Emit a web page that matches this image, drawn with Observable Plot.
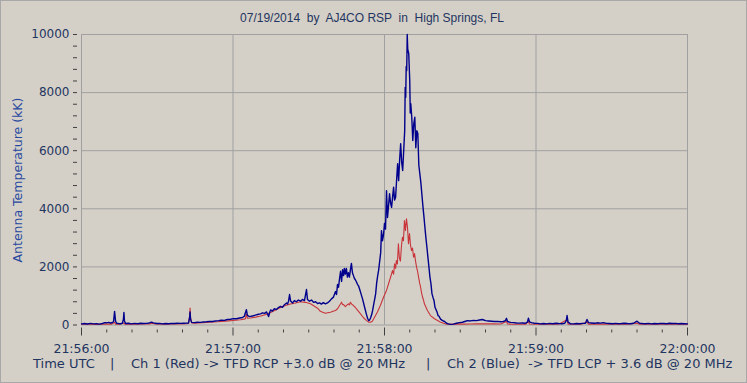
<!DOCTYPE html>
<html><head><meta charset="utf-8">
<script src="https://cdn.jsdelivr.net/npm/d3@7"></script>
<script src="https://cdn.jsdelivr.net/npm/@observablehq/plot@0.6"></script>
<style>
html,body{margin:0;padding:0;background:#d4d0c8;}
#wrap{position:relative;width:747px;height:383px;overflow:hidden;background:#d4d0c8;font-family:"DejaVu Sans",Verdana,sans-serif;color:#1f3560;}
#frame{position:absolute;left:0;top:0;width:745px;height:381px;border:1px solid #a8a8a8;pointer-events:none;}
#title{position:absolute;top:12px;left:0;width:744px;text-align:center;font-family:"Liberation Sans",Arial,sans-serif;font-size:12px;line-height:13px;white-space:pre;color:#1f3560;}
#ylabel{position:absolute;left:-132px;top:172px;width:300px;text-align:center;font-size:12.5px;line-height:16px;transform:rotate(-90deg);color:#2848a0;white-space:pre;}
.cap{position:absolute;top:357px;font-size:13px;line-height:13px;white-space:pre;color:#1f3560;}
#chart svg{position:absolute;left:0;top:0;}
</style></head>
<body>
<div id="wrap">
  <div id="chart"></div>
  <div id="title">07/19/2014  by  AJ4CO RSP  in  High Springs, FL</div>
  <div id="ylabel">Antenna Temperature (kK)</div>
  <div class="cap" style="left:33px">Time UTC</div>
  <div class="cap" style="left:110px">|</div>
  <div class="cap" style="left:131px">Ch 1 (Red) -&gt; TFD RCP +3.0 dB @ 20 MHz</div>
  <div class="cap" style="left:426px">|</div>
  <div class="cap" style="left:447px">Ch 2 (Blue)  -&gt; TFD LCP + 3.6 dB @ 20 MHz</div>
  <div id="frame"></div>
</div>
<script>
// seconds after 21:56:00 UTC, 2014-07-19
const blueT = [0,1.2,2.4,3.6,4.8,5.9,7.1,8.3,9.1,9.9,10.7,11.5,12.3,12.7,13.1,13.5,13.9,14.7,15.4,16.2,16.6,16.8,17.0,17.4,18.6,19.8,21.0,22.2,23.4,24.6,25.7,26.9,27.7,28.5,29.7,30.9,32.1,33.3,34.5,35.6,36.8,38.0,39.2,40.4,41.6,42.4,42.8,43.0,43.2,43.6,44.7,45.9,47.1,48.3,49.5,50.7,51.9,53.1,54.3,55.4,56.6,57.8,59.0,60.2,61.4,62.6,63.8,64.5,64.9,65.3,65.7,66.5,67.7,68.9,70.1,70.9,71.7,72.5,73.3,74.1,74.5,74.9,75.6,76.4,77.2,78.0,78.8,79.6,80.4,81.2,81.6,82.0,82.4,82.8,83.6,84.3,85.1,85.9,86.7,87.5,88.3,89.1,89.5,90.3,91.1,91.9,92.7,93.5,94.3,95.0,95.8,96.6,97.4,98.2,99.0,99.8,100.6,101.0,101.4,101.8,102.2,102.6,103.0,103.4,103.8,104.1,104.5,104.9,105.3,105.7,106.1,106.5,106.9,107.3,107.7,108.1,108.5,108.9,109.3,109.7,110.1,110.5,111.3,112.1,112.9,113.3,113.7,114.1,114.5,114.9,115.3,115.7,116.1,116.5,116.9,117.3,117.7,118.1,118.5,118.8,119.2,119.6,120.0,120.4,120.8,121.2,121.6,122.0,122.4,122.8,123.2,123.6,124.0,124.4,124.8,125.2,125.6,126.0,126.4,126.8,127.2,127.6,128.0,128.2,128.4,128.6,128.8,129.0,129.2,129.6,130.0,130.2,130.4,130.8,131.2,131.6,132.0,132.4,132.8,133.2,133.6,134.0,134.4,134.8,135.2,135.6,136.0,136.4,136.8,137.2,137.6,138.0,138.4,138.8,139.2,139.6,140.0,140.8,141.2,141.6,142.2,143.0,143.8,144.6,145.3,146.1,147.3,148.5,149.7,150.9,152.1,152.9,154.0,155.2,156.4,157.6,158.8,160.0,161.2,162.4,163.5,164.7,165.9,167.1,167.9,168.3,168.7,169.9,171.1,172.3,173.4,174.6,175.8,176.6,177.0,177.4,178.2,179.4,180.6,181.8,183.0,184.2,185.4,186.6,187.8,189.0,190.2,191.4,192.0,192.3,192.7,193.6,194.8,196.0,197.2,198.4,199.6,200.2,200.8,202.0,203.2,204.3,205.5,206.7,207.9,209.1,210.3,211.5,212.7,213.8,215.0,216.2,217.4,218.6,220.0,221.0,222.2,223.4,224.6,225.7,226.9,228.1,229.3,230.5,231.7,232.9,234.1,235.2,236.4,237.6,238.8,240];
const blueV = [40,50,35,55,40,45,30,50,80,75,90,70,85,120,470,130,60,50,45,60,200,430,150,50,60,40,55,45,60,50,55,70,100,75,50,55,40,50,45,55,50,60,55,60,65,70,250,450,200,90,80,95,90,105,110,125,120,140,150,165,160,190,200,220,215,240,260,300,420,530,330,290,310,340,370,385,420,400,450,290,420,520,480,560,530,600,640,610,700,760,720,820,1050,830,760,840,800,860,820,880,840,1220,880,820,860,780,800,740,760,720,770,730,760,820,900,960,1150,1050,1400,1300,1600,1850,1500,1900,1700,1950,1750,1950,1650,1800,1650,1900,2120,1800,1700,1600,1550,1480,1400,1350,1250,1130,900,620,350,230,155,170,250,350,500,700,880,1080,1450,1700,1900,2200,2500,3250,2900,3100,3500,3300,4620,3700,4100,4520,4200,4050,4400,4740,4300,4400,5000,5550,4970,5700,6240,5600,5320,6000,6690,8180,7835,8900,8755,10000,9500,9340,8410,7300,7620,7150,6350,6930,7150,6100,6690,6590,5500,5200,4900,4500,4100,3750,3365,3000,2675,2330,1990,1650,1420,1080,950,845,610,450,325,300,200,150,120,60,40,20,30,60,80,95,130,150,140,160,150,170,190,150,140,130,120,125,110,120,150,230,120,90,80,70,65,70,60,100,235,110,80,60,55,40,50,40,55,45,60,50,45,60,150,325,100,45,40,50,45,55,60,190,80,70,60,75,65,80,55,50,45,55,45,50,60,50,45,60,130,60,50,45,55,40,50,45,55,50,45,60,50,55,45,50,45,40];

const redT = [0,3,6,9,12,13.1,13.5,15,16.8,17.2,18,21,24,27,28,29,30,33,36,39,41.6,42.4,42.8,43.0,43.2,43.6,45,48,51,54,57,60,63,64.9,65.3,65.7,67,69,71,73,74.9,76.5,78.8,80.5,82.8,84.8,86.7,88.7,90.7,92.7,93.5,94.6,95.5,96.6,97.5,98.6,99.6,100.6,101.4,102.2,103.0,103.4,103.8,104.5,105.3,105.7,106.1,106.5,107.0,107.7,108.3,108.9,109.7,110.5,111.7,112.9,113.7,114.4,115.2,116.0,117.2,118.4,119.6,120.8,121.6,122.4,123.2,123.6,124.0,124.4,124.7,125.1,125.5,125.9,126.3,126.7,127.1,127.5,127.9,128.3,128.7,129.1,129.5,129.9,130.3,130.7,131.1,131.5,131.9,132.3,132.7,133.1,133.5,133.9,134.3,134.7,135.1,135.5,135.8,137.0,138.2,139.8,142.2,144.1,146.1,149,151,154,157,160,163,166,168.3,168.7,170,173,176,177,177.4,180,183,186,189,192.3,192.7,195,198,200.2,200.8,204,207,210,213,216,220,221,224,228,232,236,240];
const redV = [25,30,20,35,30,90,30,25,70,30,35,30,35,40,60,40,35,30,40,35,45,60,300,580,250,70,65,75,95,110,135,155,180,210,380,230,240,270,310,360,430,500,600,660,720,760,800,780,730,620,580,470,440,405,420,440,470,500,560,670,785,700,705,635,700,730,690,785,720,670,620,555,470,385,250,150,100,95,130,260,450,680,955,1190,1420,1645,1875,1750,2105,1950,2220,2100,2795,2300,2200,2700,3020,2900,3595,3250,3660,3365,2800,3150,2750,2560,2650,2330,2460,2200,1990,1850,1645,1450,1300,1100,955,840,730,500,325,215,95,40,20,40,30,35,40,45,40,35,120,40,30,25,30,130,35,25,30,25,30,180,30,25,30,100,30,30,35,25,30,25,60,25,30,25,30,25,25];

const start = Date.UTC(2014, 6, 19, 21, 56, 0);
const toDate = s => new Date(start + s * 1000);
const blue = blueT.map((t, i) => ({time: toDate(t), value: blueV[i]}));
const red = redT.map((t, i) => ({time: toDate(t), value: redV[i]}));

const xMajor = d3.utcMinute.range(toDate(0), toDate(241));
const xMinor = d3.utcSecond.every(10).range(toDate(0), toDate(241)).filter(d => d.getUTCSeconds() !== 0);
const yLabels = d3.range(0, 10001, 2000);
const yGrid = [2000, 4000, 6000, 8000];
const yMinor = d3.range(0, 10001, 400);

const ink = "#1f3560";
const chart = Plot.plot({
  width: 747, height: 383,
  marginLeft: 81, marginRight: 60, marginTop: 34, marginBottom: 58.5,
  style: {background: "transparent", fontFamily: "DejaVu Sans, Verdana, sans-serif", fontSize: "12px", color: ink},
  x: {type: "utc", domain: [toDate(0), toDate(240)]},
  y: {domain: [0, 10000]},
  marks: [
    Plot.gridX(xMajor, {stroke: "#a0a0a0", strokeOpacity: 1}),
    Plot.gridY(yGrid, {stroke: "#a0a0a0", strokeOpacity: 1}),
    Plot.frame({stroke: "#a0a0a0"}),
    Plot.line(red, {x: "time", y: "value", stroke: "#c8343a", strokeWidth: 1.1}),
    Plot.line(blue, {x: "time", y: "value", stroke: "#00008c", strokeWidth: 1.4}),
    Plot.axisY(yMinor, {tickSize: 4, dx: -4, text: null, stroke: "#404040", label: null}),
    Plot.axisY(yLabels, {tickSize: 0, tickPadding: 12, tickFormat: d3.format("d"), fontSize: 12, fill: ink, label: null}),
    Plot.axisX(xMinor, {tickSize: 3, dy: 5, text: null, stroke: "#404040", label: null}),
    Plot.axisX(xMajor, {tickSize: 8, dy: 3, text: null, stroke: "#404040", label: null}),
    Plot.axisX(xMajor, {tickSize: 0, tickPadding: 19, tickFormat: d3.utcFormat("%H:%M:%S"), fontSize: 12.5, fill: ink, label: null})
  ]
});
document.getElementById("chart").appendChild(chart);
</script>
</body></html>
